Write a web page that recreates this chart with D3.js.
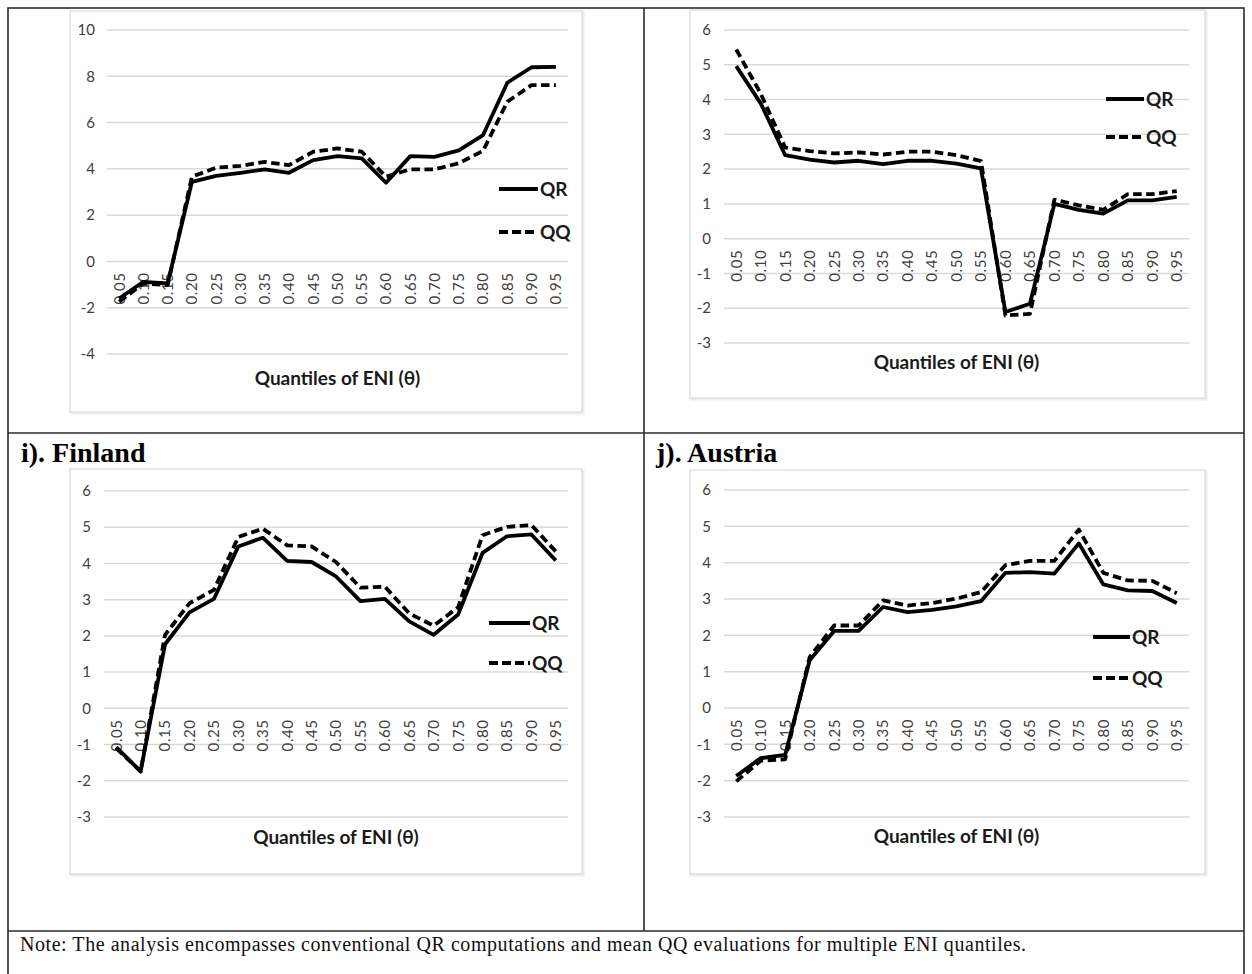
<!DOCTYPE html>
<html>
<head>
<meta charset="utf-8">
<script src="https://cdn.jsdelivr.net/npm/d3@7"></script>
<style>
  html, body { margin: 0; padding: 0; background: #fff; }
  svg { display: block; }
</style>
</head>
<body>
<svg id="fig" width="1252" height="974"></svg>
<script>
// Quantile grid shared by all panels
const quantiles = ["0.05","0.10","0.15","0.20","0.25","0.30","0.35","0.40","0.45","0.50",
                   "0.55","0.60","0.65","0.70","0.75","0.80","0.85","0.90","0.95"];

// Y tick labels
const ticksWide = [-4, -2, 0, 2, 4, 6, 8, 10];
const ticksNarrow = [-3, -2, -1, 0, 1, 2, 3, 4, 5, 6];

// Series names
const seriesNames = ["QR", "QQ"];

// Top-left panel
const qrTopLeft = [-1.60, -0.88, -0.95, 3.44, 3.70, 3.83, 3.98, 3.83, 4.38, 4.55,
                   4.45, 3.40, 4.55, 4.52, 4.80, 5.46, 7.72, 8.39, 8.41];
const qqTopLeft = [-1.74, -0.95, -1.02, 3.66, 4.05, 4.13, 4.30, 4.16, 4.74, 4.88,
                   4.74, 3.66, 3.98, 3.98, 4.24, 4.78, 6.90, 7.62, 7.62];

// Top-right panel
const qrTopRight = [4.96, 3.89, 2.40, 2.27, 2.19, 2.24, 2.14, 2.24, 2.24, 2.16,
                    2.02, -2.11, -1.87, 1.00, 0.83, 0.72, 1.10, 1.10, 1.20];
const qqTopRight = [5.44, 4.17, 2.62, 2.52, 2.45, 2.48, 2.42, 2.50, 2.50, 2.40,
                    2.23, -2.21, -2.16, 1.12, 0.96, 0.83, 1.28, 1.28, 1.37];

// i). Finland
const qrFinland = [-1.07, -1.74, 1.77, 2.65, 3.02, 4.47, 4.71, 4.07, 4.04, 3.64,
                   2.96, 3.02, 2.40, 2.03, 2.59, 4.29, 4.75, 4.80, 4.08];
const qqFinland = [-1.10, -1.74, 2.03, 2.90, 3.27, 4.73, 4.96, 4.50, 4.47, 4.04,
                   3.33, 3.36, 2.62, 2.28, 2.79, 4.78, 5.01, 5.06, 4.33];

// j). Austria
const qrAustria = [-1.87, -1.38, -1.29, 1.31, 2.12, 2.12, 2.78, 2.64, 2.70, 2.80,
                   2.94, 3.72, 3.74, 3.70, 4.53, 3.40, 3.24, 3.22, 2.89];
const qqAustria = [-2.02, -1.45, -1.41, 1.40, 2.27, 2.27, 2.96, 2.82, 2.89, 3.01,
                   3.19, 3.93, 4.05, 4.05, 4.91, 3.72, 3.51, 3.50, 3.16];

const axisTitle = "Quantiles of ENI (θ)";
const noteText = "Note: The analysis encompasses conventional QR computations and mean QQ evaluations for multiple ENI quantiles.";

// Panel layout
const panels = [
  { qr: qrTopLeft, qq: qqTopLeft, ticks: ticksWide, heading: null,
    box: [70, 11, 512, 401], xr: [107, 568], yr: [354, 30], yLab: 95,
    titleY: 378, leg: [499, 538, 189, 232] },
  { qr: qrTopRight, qq: qqTopRight, ticks: ticksNarrow, heading: null,
    box: [690, 10, 515, 388], xr: [724, 1189], yr: [343, 30], yLab: 711,
    titleY: 362, leg: [1106, 1144, 99, 137] },
  { qr: qrFinland, qq: qqFinland, ticks: ticksNarrow, heading: "i). Finland", headX: 21,
    box: [70, 469, 512, 405], xr: [104, 568], yr: [817, 491], yLab: 91,
    titleY: 837, leg: [489, 530, 623, 663] },
  { qr: qrAustria, qq: qqAustria, ticks: ticksNarrow, heading: "j). Austria", headX: 656,
    box: [690, 470, 515, 404], xr: [724, 1189], yr: [817, 490], yLab: 711,
    titleY: 836, leg: [1093, 1130, 637, 678] }
];

const svg = d3.select("#fig");
const sans = "Lato, 'Open Sans', sans-serif";
const serif = "'Liberation Serif', 'Times New Roman', serif";

// Table frame
const frame = svg.append("g").attr("stroke", "#2b2b2b").attr("stroke-width", 1.6).attr("fill", "none");
frame.append("rect").attr("x", 8).attr("y", 8).attr("width", 1236).attr("height", 980);
frame.append("line").attr("x1", 644).attr("x2", 644).attr("y1", 8).attr("y2", 931);
frame.append("line").attr("x1", 8).attr("x2", 1244).attr("y1", 433).attr("y2", 433);
frame.append("line").attr("x1", 8).attr("x2", 1244).attr("y1", 931).attr("y2", 931);

svg.append("text").attr("x", 20).attr("y", 951)
  .attr("font-family", serif).attr("font-size", 20).attr("letter-spacing", 0.55)
  .attr("fill", "#111")
  .text(noteText);

panels.forEach(p => {
  const g = svg.append("g");
  const [bx, by, bw, bh] = p.box;

  // Chart area with soft frame
  g.append("rect").attr("x", bx + 1.5).attr("y", by + 1.5).attr("width", bw).attr("height", bh)
    .attr("fill", "none").attr("stroke", "#ececec").attr("stroke-width", 2);
  g.append("rect").attr("x", bx).attr("y", by).attr("width", bw).attr("height", bh)
    .attr("fill", "#fff").attr("stroke", "#d9d9d9").attr("stroke-width", 1.2);

  if (p.heading) {
    svg.append("text").attr("x", p.headX).attr("y", 462)
      .attr("font-family", serif).attr("font-weight", "bold").attr("font-size", 28)
      .attr("fill", "#000").text(p.heading);
  }

  const x = d3.scaleBand().domain(quantiles).range(p.xr);
  const y = d3.scaleLinear().domain(d3.extent(p.ticks)).range(p.yr);
  const cx = q => x(q) + x.bandwidth() / 2;

  // Gridlines
  g.append("g").selectAll("line").data(p.ticks).join("line")
    .attr("x1", p.xr[0]).attr("x2", p.xr[1])
    .attr("y1", d => y(d)).attr("y2", d => y(d))
    .attr("stroke", "#d9d9d9").attr("stroke-width", 1.5);

  // Y axis labels
  g.append("g").selectAll("text").data(p.ticks).join("text")
    .attr("x", p.yLab).attr("y", d => y(d)).attr("dy", "0.35em")
    .attr("text-anchor", "end").attr("font-family", sans).attr("font-size", 15)
    .attr("fill", "#404040").text(d => d);

  // Category labels, rotated, hanging below the zero line
  const y0 = y(0);
  g.append("g").selectAll("text").data(quantiles).join("text")
    .attr("transform", d => `translate(${cx(d)},${y0 + 11}) rotate(-90)`)
    .attr("dy", "0.36em").attr("text-anchor", "end")
    .attr("font-family", sans).attr("font-size", 15).attr("fill", "#404040")
    .attr("letter-spacing", 0.6)
    .text(d => d);

  // Series lines
  const line = d3.line().x((d, i) => cx(quantiles[i])).y(d => y(d));
  g.append("path").datum(p.qr).attr("d", line)
    .attr("fill", "none").attr("stroke", "#000").attr("stroke-width", 3.8)
    .attr("stroke-linejoin", "round");
  g.append("path").datum(p.qq).attr("d", line)
    .attr("fill", "none").attr("stroke", "#000").attr("stroke-width", 3.8)
    .attr("stroke-dasharray", "8.5,4.5").attr("stroke-linejoin", "round");

  // Axis title
  g.append("text").attr("x", (p.xr[0] + p.xr[1]) / 2).attr("y", p.titleY).attr("dy", "0.35em")
    .attr("text-anchor", "middle").attr("font-family", sans).attr("font-weight", "bold")
    .attr("font-size", 19).attr("fill", "#1a1a1a").text(axisTitle);

  // Legend
  const [lx0, lx1, ly1, ly2] = p.leg;
  const legRows = [{ name: seriesNames[0], y: ly1, dash: null },
                   { name: seriesNames[1], y: ly2, dash: "9,4" }];
  legRows.forEach(r => {
    g.append("line").attr("x1", lx0).attr("x2", lx1).attr("y1", r.y).attr("y2", r.y)
      .attr("stroke", "#000").attr("stroke-width", 3.8)
      .attr("stroke-dasharray", r.dash);
    g.append("text").attr("x", lx1 + 2).attr("y", r.y).attr("dy", "0.36em")
      .attr("font-family", sans).attr("font-weight", "bold").attr("font-size", 19)
      .attr("fill", "#1a1a1a").text(r.name);
  });
});
</script>
</body>
</html>
